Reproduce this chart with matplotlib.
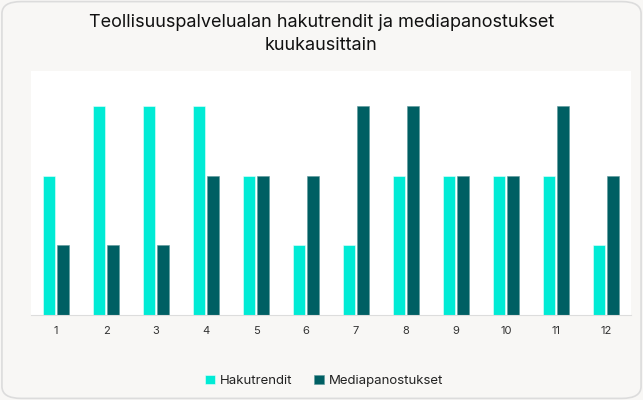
import numpy as np
import matplotlib.pyplot as plt
from matplotlib.patches import FancyBboxPatch

# data
months = [str(i) for i in range(1, 13)]
hakutrendit = [2, 3, 3, 3, 2, 1, 1, 2, 2, 2, 2, 1]
mediapanostukset = [1, 1, 1, 2, 2, 2, 3, 3, 2, 2, 3, 2]
series_names = ["Hakutrendit", "Mediapanostukset"]
title = "Teollisuuspalvelualan hakutrendit ja mediapanostukset\nkuukausittain"

c_light = "#00EBD5"
c_dark = "#005F63"
bg = "#F8F7F5"

plt.rcParams['font.family'] = ['Inter', 'DejaVu Sans']

fig = plt.figure(figsize=(6.43, 4.0), dpi=100)
fig.patch.set_facecolor(bg)

# rounded card border, kept behind the axes
card = FancyBboxPatch((0.003, 0.004), 0.994, 0.992, boxstyle="round,pad=0,rounding_size=0.03",
                      transform=fig.transFigure, facecolor=bg, edgecolor="#DCDCDC", linewidth=1.2,
                      zorder=-5)
fig.patches.append(card)

ax = fig.add_axes([31 / 643, 1 - 315 / 400, 600 / 643, 244 / 400])
ax.set_facecolor("white")

x = np.arange(1, len(months) + 1)
w = 0.227
off = 0.143
ax.bar(x - off, hakutrendit, width=w, color=c_light, edgecolor="#E6FFFC", linewidth=0.4, label=series_names[0])
ax.bar(x + off, mediapanostukset, width=w, color=c_dark, edgecolor="#5E9A9C", linewidth=0.4, label=series_names[1])

ax.set_xlim(0.5, 12.5)
ax.set_ylim(0, 3.5)
ax.set_xticks(x)
ax.set_xticklabels(months)
ax.set_yticks([])
for s in ["top", "right", "left"]:
    ax.spines[s].set_visible(False)
ax.spines["bottom"].set_color("#DDDDDD")
ax.tick_params(axis="x", length=0, pad=8, labelsize=8, labelcolor="#333333")

fig.text(0.5, 1 - 34 / 400, title, ha="center", va="center", fontsize=13, color="#111111",
         linespacing=1.5)

fig.legend(loc="center", bbox_to_anchor=(324 / 643, 1 - 381 / 400), ncol=2, frameon=False,
           fontsize=9.5, handlelength=0.75, handleheight=0.75, handletextpad=0.4, columnspacing=1.6,
           labelcolor="#222222")

fig.savefig("out.png", dpi=100, facecolor=bg)
